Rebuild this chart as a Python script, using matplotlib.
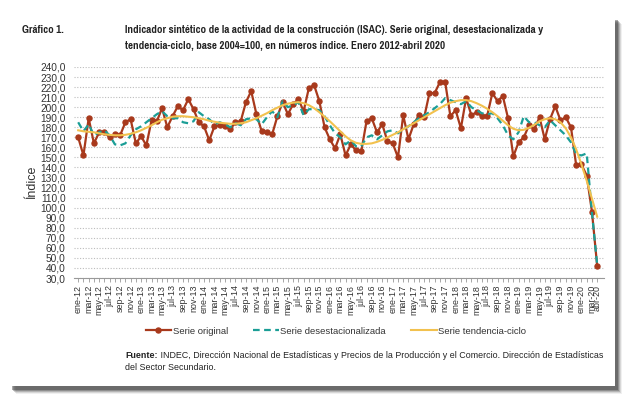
import numpy as np
import matplotlib
matplotlib.use("Agg")
import matplotlib.pyplot as plt
import matplotlib.font_manager as fm
from matplotlib.patches import Rectangle

plt.rcParams['font.family'] = ['Liberation Sans', 'DejaVu Sans']

# meses ene-2012 .. abr-2020
meses = ['ene', 'feb', 'mar', 'abr', 'may', 'jun', 'jul', 'ago', 'sep', 'oct', 'nov', 'dic']
etiquetas = [f"{m}-{a}" for a in range(12, 21) for m in meses][:100]

serie_original = [
    170, 152, 189, 164, 175, 175, 170, 173, 172, 185, 188, 164,
    171, 162, 187, 186, 199, 180, 191, 201, 197, 208, 198, 185,
    181, 167, 181, 182, 181, 178, 185, 186, 205, 216, 193, 176,
    175, 173, 191, 205, 193, 203, 208, 196, 219, 222, 206, 180,
    168, 159, 173, 152, 163, 157, 156, 186, 189, 175, 183, 166,
    164, 150, 192, 168, 183, 192, 190, 214, 214, 225, 225, 191,
    197, 179, 209, 192, 195, 191, 191, 214, 206, 211, 189, 151,
    165, 170, 182, 178, 190, 168, 188, 201, 187, 190, 180, 142,
    143, 132, 96, 42,
]
serie_desest = [
    185, 176, 183, 172, 175, 177, 172, 163, 162, 164, 172, 178,
    181, 185, 189, 193, 196, 191, 189, 189, 185, 184, 186, 195,
    191, 188, 183, 185, 183, 180, 184, 182, 188, 189, 188, 183,
    190, 196, 190, 206, 200, 202, 205, 192, 198, 198, 197, 191,
    182, 174, 170, 163, 167, 161, 161, 170, 172, 168, 172, 176,
    177, 174, 178, 181, 185, 189, 192, 195, 199, 203, 209, 207,
    205, 203, 206, 200, 197, 194, 193, 194, 189, 182, 172, 168,
    175, 191, 185, 185, 182, 180, 187, 182, 177, 172, 165, 153,
    152, 154, 95, 43,
]
serie_tendencia = [
    177, 176, 175.5, 175, 174, 173, 172.5, 172, 172, 172.5, 173.5, 175,
    177, 179.5, 182, 185, 187.5, 189, 190.5, 191, 191, 190.5, 190, 189,
    188, 186.5, 185.5, 184.5, 184, 183.5, 183.5, 184, 185, 187, 189, 191.5,
    194, 197, 199.5, 202, 203.5, 204.5, 205, 204, 202, 199, 195, 190.5,
    186, 181, 176, 171, 167, 164.5, 163.5, 163.5, 164, 165.5, 167.5, 170,
    172.5, 175, 178, 181, 184, 187, 190, 193, 196, 199, 202, 204.5,
    206, 207, 207, 206, 204, 201.5, 198.5, 195, 191, 186.5, 182, 178.5,
    177, 177.5, 179.5, 182.5, 186, 188, 189, 188, 185, 179, 170, 158,
    143, 127, 109, 91,
]

titulo1 = 'Indicador sintético de la actividad de la construcción (ISAC). Serie original, desestacionalizada y'
titulo2 = 'tendencia-ciclo, base 2004=100, en números índice. Enero 2012-abril 2020'
fuente = ' INDEC, Dirección Nacional de Estadísticas y Precios de la Producción y el Comercio. Dirección de Estadísticas'

# fuente angosta para el titulo (prefiero Narrow, si no Condensed)
archivos = fm.findSystemFonts()
angostas = [f for f in archivos if 'Narrow-Bold.' in f] + \
           [f for f in archivos if 'Condensed-Bold.' in f]
if angostas:
    fp_tit = fm.FontProperties(fname=angostas[0], size=8.6)
else:
    fp_tit = fm.FontProperties(family='Liberation Sans', weight='bold', size=8.6)

W, H = 630, 394
fig = plt.figure(figsize=(W / 100, H / 100), dpi=100)

def px(x0, y0, w, h):
    # caja en pixeles (origen arriba a la izquierda) -> fraccion de figura
    return [x0 / W, 1 - (y0 + h) / H, w / W, h / H]

# sombra del recuadro
for off, a in [(8, 0.08), (7, 0.14), (6, 0.22), (5, 0.32), (4, 0.45)]:
    b = px(off + 8, off + 16, 606, 370)
    fig.patches.append(Rectangle((b[0], b[1]), b[2], b[3], transform=fig.transFigure,
                                 facecolor='#404040', alpha=a, edgecolor='none', zorder=0))
b = px(0, 0, 615, 386)
fig.patches.append(Rectangle((b[0], b[1]), b[2], b[3], transform=fig.transFigure,
                             facecolor='white', edgecolor='none', zorder=1))

ax = fig.add_axes(px(74, 67, 530, 211))
ax.set_zorder(2)
x = np.arange(len(serie_original))

ax.plot(x, serie_original, color='#A8391C', lw=1.6, marker='o', ms=3.6,
        label='Serie original')
ax.plot(x, serie_desest, color='#1B9E96', lw=1.6, ls=(0, (3, 2)),
        label='Serie desestacionalizada')
ax.plot(x, serie_tendencia, color='#F2C14E', lw=1.5, label='Serie tendencia-ciclo')

ax.set_ylim(30, 240)
ax.set_xlim(-0.8, 100.3)
ax.set_yticks(np.arange(30, 241, 10))
ax.set_yticklabels([f"{v},0" for v in range(30, 241, 10)], fontsize=7.3, color='#333333')
ax.yaxis.grid(True, color='#bdbdbd', ls=(0, (1, 1.5)), lw=0.8)
ax.set_axisbelow(True)
ax.tick_params(axis='y', length=0, pad=6)

ax.set_xticks(x)
ax.set_xticklabels([etiquetas[i] if (i % 2 == 0 or i == 99) else '' for i in x],
                   rotation=90, fontsize=6.4, color='#333333')
ax.tick_params(axis='x', length=3, width=0.6, color='#999999', pad=2)
for s in ['top', 'right', 'left']:
    ax.spines[s].set_visible(False)
ax.spines['bottom'].set_color('#999999')
ax.spines['bottom'].set_linewidth(0.8)

fig.text(32 / W, 1 - 182 / H, 'Índice', rotation=90, fontsize=9, color='#333333',
         ha='center', va='center')

fig.legend(loc='center', bbox_to_anchor=(336 / W, 1 - 331 / H), ncol=3, frameon=False,
           fontsize=6.8, handlelength=2.7, handletextpad=0.15, columnspacing=2.7,
           labelcolor='#333333')

# ajustar el tamaño del titulo al ancho del original (~478 px)
t_g = fig.text(22 / W, 1 - 30 / H, 'Gráfico 1.', fontproperties=fp_tit, color='#222222', va='center')
t_a = fig.text(125 / W, 1 - 30 / H, titulo1, fontproperties=fp_tit, color='#222222', va='center')
t_b = fig.text(125 / W, 1 - 46 / H, titulo2, fontproperties=fp_tit, color='#222222', va='center')
fig.canvas.draw()
ancho = t_a.get_window_extent().width
tam = min(8.6, 8.6 * 478 / ancho)
for t in (t_g, t_a, t_b):
    t.set_fontsize(tam)

t1 = fig.text(125 / W, 1 - 356 / H, 'Fuente:', fontsize=6.4, fontweight='bold',
              color='#222222', va='center')
fig.canvas.draw()
ext = t1.get_window_extent()
t2 = fig.text(ext.x1 / W, 1 - 356 / H, fuente, fontsize=6.4, color='#222222', va='center')
fig.canvas.draw()
sobra = t2.get_window_extent().x1 - 603
if sobra > 0:
    tam_f = 6.4 * 478 / (t2.get_window_extent().x1 - 125)
    t1.set_fontsize(tam_f)
    fig.canvas.draw()
    t2.set_fontsize(tam_f)
    t2.set_x(t1.get_window_extent().x1 / W)
else:
    tam_f = 6.4
fig.text(125 / W, 1 - 368 / H, 'del Sector Secundario.', fontsize=tam_f,
         color='#222222', va='center')

fig.savefig('out.png', dpi=100)
